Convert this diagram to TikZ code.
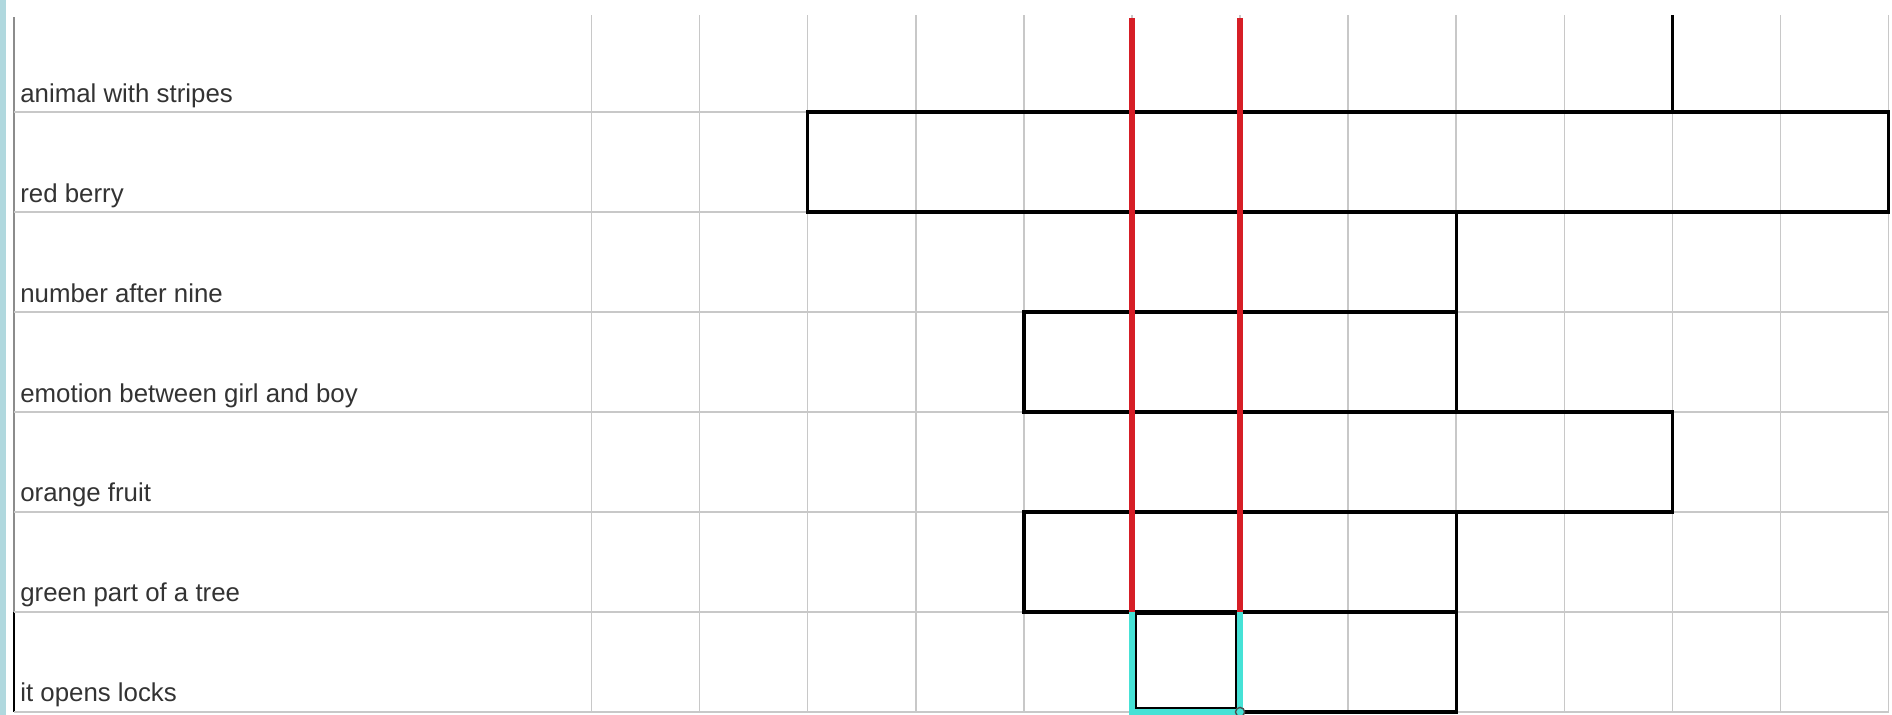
\documentclass[tikz,border=0pt]{standalone}
\usepackage{fontspec}
\setmainfont{Liberation Sans}
\usepackage{tikz}
\usetikzlibrary{positioning}
\usepackage{xcolor}
\definecolor{gridgray}{RGB}{200, 200, 200}
\definecolor{sidebar}{RGB}{176, 216, 222}
\definecolor{markred}{RGB}{214, 30, 38}
\definecolor{selcyan}{RGB}{70, 226, 214}

\begin{document}
\begin{tikzpicture}[
    x=1.081cm, y=-1cm,
    gridline/.style={draw=gridgray, line width=0.45pt},
    word/.style={draw=black, line width=1pt, line cap=rect},
    marker/.style={draw=markred, line width=1.5pt},
    selection/.style={draw=selcyan, line width=1.6pt},
    clue/.style={anchor=base west, inner sep=0pt, font=\fontsize{7.35pt}{9pt}\selectfont, text=black!80}
]
\useasboundingbox (-5.472,-0.12) rectangle (12.031,7.03);

% left strip and table frame
\fill[sidebar] (-5.472,-0.12) rectangle (-5.414,7.03);
\draw[draw=black!45, line width=0.6pt] (-5.342,0.05) -- (-5.342,6);
\draw[draw=black, line width=0.6pt] (-5.342,6) -- (-5.342,7);

% grid
\foreach \c in {0,...,12}
    \draw[gridline] (\c,0.03) -- (\c,7);
\foreach \r in {1,...,7}
    \draw[gridline] (-5.342,\r) -- (12,\r);

% clues
\node[clue] (stripes) at (-5.29,0.9) {animal with stripes};
\node[clue] (berry) at (-5.29,1.9) {red berry};
\node[clue] (nine) at (-5.29,2.9) {number after nine};
\node[clue] (emotion) at (-5.29,3.9) {emotion between girl and boy};
\node[clue] (orange) at (-5.29,4.9) {orange fruit};
\node[clue] (leaf) at (-5.29,5.9) {green part of a tree};
\node[clue] (key) at (-5.29,6.9) {it opens locks};

% word outlines
\draw[word] (10,0.05) -- (10,1);
\draw[word] (2,1) rectangle (12,2);
\draw[word] (8,2) -- (8,4);
\draw[word] (4,3) -- (8,3);
\draw[word] (4,3) -- (4,4) -- (10,4) -- (10,5) -- (4,5) -- (4,6) -- (8,6);
\draw[word] (8,5) -- (8,7) -- (6,7);

% marked column
\draw[marker] (5,0.06) -- (5,6);
\draw[marker] (6,0.06) -- (6,6);

% selected cell
\draw[draw=black, line width=0.6pt] (5.037,6.02) rectangle (5.962,6.96);
\draw[selection] (6,6) -- (6,7) -- (5,7) -- (5,6);
\filldraw[fill=selcyan, draw=black!70, line width=0.4pt] (6,7) circle (1.3pt);

\end{tikzpicture}
\end{document}
